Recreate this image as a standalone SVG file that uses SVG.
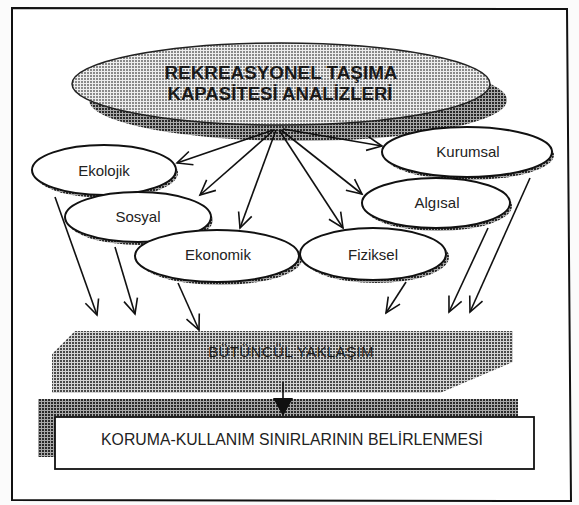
<svg xmlns="http://www.w3.org/2000/svg" width="579" height="505" viewBox="0 0 579 505">
<defs>
<pattern id="pLight" width="3" height="3" patternUnits="userSpaceOnUse">
<rect width="3" height="3" fill="#eeeeee"/>
<rect x="0" y="0" width="2" height="2" fill="#8a8a8a"/>
</pattern>
<pattern id="pDark" width="3" height="3" patternUnits="userSpaceOnUse">
<rect width="3" height="3" fill="#a8a8a8"/>
<rect x="0" y="0" width="2" height="2" fill="#2a2a2a"/>
</pattern>
<pattern id="pMid" width="3" height="3" patternUnits="userSpaceOnUse">
<rect width="3" height="3" fill="#d4d4d4"/>
<rect x="0" y="0" width="2" height="2" fill="#4a4a4a"/>
</pattern>
<marker id="vh" markerUnits="userSpaceOnUse" markerWidth="18" markerHeight="16" refX="16" refY="8" orient="auto" overflow="visible">
<path d="M1,1 L16,8 L1,15" fill="none" stroke="#111" stroke-width="1.6"/>
</marker>
</defs>
<style>
.node{fill:#fff;stroke:#111;stroke-width:2}
.sh{fill:url(#pDark)}
.lbl{font-family:"Liberation Sans",Arial,sans-serif;font-size:15px;fill:#222;text-anchor:middle}
.con{stroke:#111;stroke-width:1.6;fill:none;marker-end:url(#vh)}
</style>
<rect width="579" height="505" fill="#fbfbfb"/>
<path id="frame" d="M12,8 L567,9 L571,501 L12,500 Z" fill="#fff" stroke="#111" stroke-width="2"/>

<g id="main">
<ellipse cx="298" cy="100" rx="209" ry="41" fill="url(#pDark)"/>
<ellipse cx="281" cy="84" rx="209" ry="41" fill="url(#pLight)" stroke="#222" stroke-width="1.5"/>
<text x="281" y="79" font-family="'Liberation Sans',Arial,sans-serif" font-size="18" font-weight="bold" fill="#1a1a1a" text-anchor="middle" textLength="233" lengthAdjust="spacingAndGlyphs">REKREASYONEL TAŞIMA</text>
<text x="280" y="100" font-family="'Liberation Sans',Arial,sans-serif" font-size="18" font-weight="bold" fill="#1a1a1a" text-anchor="middle" textLength="225" lengthAdjust="spacingAndGlyphs">KAPASİTESİ ANALİZLERİ</text>
</g>

<g id="ekolojik">
<ellipse class="sh" cx="106" cy="173" rx="72" ry="25"/>
<ellipse class="node" cx="104" cy="170" rx="72" ry="25"/>
<text class="lbl" x="104" y="176">Ekolojik</text>
</g>
<g id="sosyal">
<ellipse class="sh" cx="140" cy="220" rx="73" ry="25"/>
<ellipse class="node" cx="138" cy="217" rx="73" ry="25"/>
<text class="lbl" x="138" y="222">Sosyal</text>
</g>
<g id="ekonomik">
<ellipse class="sh" cx="220" cy="259" rx="82" ry="26"/>
<ellipse class="node" cx="217" cy="256" rx="82" ry="26"/>
<text class="lbl" x="218" y="260">Ekonomik</text>
</g>
<g id="kurumsal">
<ellipse class="sh" cx="469" cy="155" rx="85" ry="25"/>
<ellipse class="node" cx="467" cy="152" rx="85" ry="25"/>
<text class="lbl" x="468" y="157">Kurumsal</text>
</g>
<g id="algisal">
<ellipse class="sh" cx="438" cy="206" rx="74" ry="25"/>
<ellipse class="node" cx="436" cy="203" rx="74" ry="25"/>
<text class="lbl" x="437" y="208">Algısal</text>
</g>
<g id="fiziksel">
<ellipse class="sh" cx="376" cy="257" rx="73" ry="26"/>
<ellipse class="node" cx="373" cy="254" rx="73" ry="26"/>
<text class="lbl" x="373" y="260">Fiziksel</text>
</g>

<g id="butuncul">
<path d="M75,331 L513,331 L513,362 L440,393 L52,393 L52,354 Z" fill="url(#pMid)"/>
<text x="291" y="357" font-family="'Liberation Sans',Arial,sans-serif" font-size="15" fill="#1e1e1e" letter-spacing="0.4" text-anchor="middle">BÜTÜNCÜL YAKLAŞIM</text>
</g>

<g id="koruma">
<rect x="38" y="399" width="480" height="58" fill="url(#pDark)"/>
<rect x="55" y="417" width="479" height="52" fill="#fff" stroke="#111" stroke-width="1.8"/>
<text x="292" y="445" font-family="'Liberation Sans',Arial,sans-serif" font-size="15.8" fill="#222" text-anchor="middle">KORUMA-KULLANIM SINIRLARININ BELİRLENMESİ</text>
</g>

<g id="connectors">
<path class="con" d="M273,130 L177,163"/>
<path class="con" d="M274,130 L200,195"/>
<path class="con" d="M276,130 L240,228"/>
<path class="con" d="M279,130 L343,228"/>
<path class="con" d="M281,130 L362,194"/>
<path class="con" d="M283,129 L382,146"/>
<path class="con" d="M55,197 L97,315"/>
<path class="con" d="M115,247 L135,314"/>
<path class="con" d="M178,283 L199,330"/>
<path class="con" d="M406,282 L386,313"/>
<path class="con" d="M488,228 L449,312"/>
<path class="con" d="M530,178 L470,312"/>
<line x1="283" y1="382" x2="283" y2="400" stroke="#111" stroke-width="1.6"/>
<polygon points="273,398 293,398 283,416" fill="#111"/>
</g>
</svg>
